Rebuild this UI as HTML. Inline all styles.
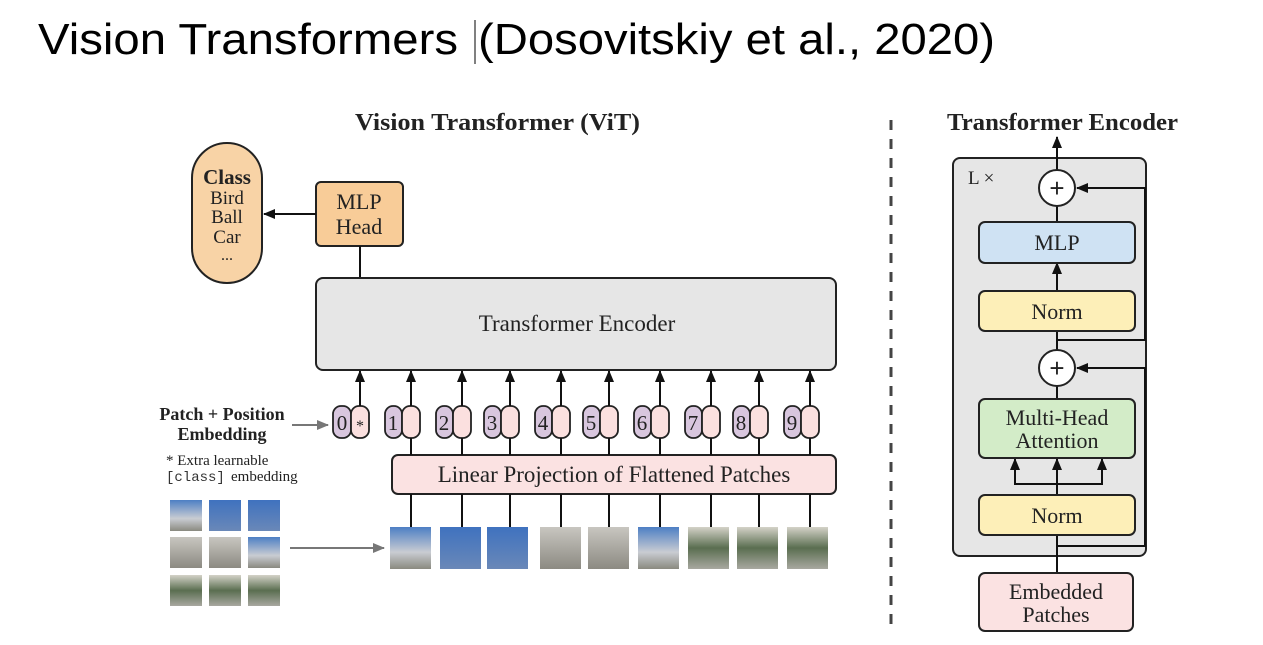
<!DOCTYPE html>
<html><head><meta charset="utf-8"><style>
html,body{margin:0;padding:0;background:#fff;width:1263px;height:645px;overflow:hidden}
svg{display:block}
.s{font-family:"Liberation Serif",serif;fill:#222}
</style></head><body>
<svg width="1263" height="645" viewBox="0 0 1263 645" xmlns="http://www.w3.org/2000/svg">
<defs>
<marker id="b" markerWidth="12" markerHeight="10" refX="11" refY="5" orient="auto" markerUnits="userSpaceOnUse"><path d="M0,0 L12,5 L0,10 z" fill="#111"/></marker>
<marker id="g" markerWidth="12" markerHeight="10" refX="11" refY="5" orient="auto" markerUnits="userSpaceOnUse"><path d="M0,0 L12,5 L0,10 z" fill="#777"/></marker>
<linearGradient id="p1" x1="0" y1="0" x2="0" y2="1"><stop offset="0" stop-color="#4d7fc4"/><stop offset="0.6" stop-color="#c9ccd2"/><stop offset="1" stop-color="#8a8a80"/></linearGradient>
<linearGradient id="p2" x1="0" y1="0" x2="0" y2="1"><stop offset="0" stop-color="#3f72bf"/><stop offset="1" stop-color="#6a88b8"/></linearGradient>
<linearGradient id="p3" x1="0" y1="0" x2="0" y2="1"><stop offset="0" stop-color="#c8c6c0"/><stop offset="1" stop-color="#8c8a82"/></linearGradient>
<linearGradient id="p4" x1="0" y1="0" x2="0" y2="1"><stop offset="0" stop-color="#d4d2c8"/><stop offset="0.5" stop-color="#5a6e50"/><stop offset="1" stop-color="#a8a8a0"/></linearGradient>
</defs>
<text x="38" y="54" font-family="Liberation Sans,sans-serif" font-size="44" fill="#000" textLength="420" lengthAdjust="spacingAndGlyphs">Vision Transformers</text>
<line x1="475" y1="20" x2="475" y2="64" stroke="#000" stroke-width="1"/>
<text x="478" y="54" font-family="Liberation Sans,sans-serif" font-size="44" fill="#000" textLength="517" lengthAdjust="spacingAndGlyphs">(Dosovitskiy et al., 2020)</text>

<text x="355" y="130" class="s" font-size="24" font-weight="bold" textLength="285" lengthAdjust="spacingAndGlyphs">Vision Transformer (ViT)</text>
<rect x="192" y="143" width="70" height="140" rx="35" fill="#f8d3a6" stroke="#222" stroke-width="2"/>
<text x="227" y="184" class="s" font-size="21" font-weight="bold" text-anchor="middle">Class</text>
<text x="227" y="204" class="s" font-size="19" text-anchor="middle">Bird</text>
<text x="227" y="223" class="s" font-size="19" text-anchor="middle">Ball</text>
<text x="227" y="243" class="s" font-size="19" text-anchor="middle">Car</text>
<text x="227" y="260" class="s" font-size="16" text-anchor="middle">...</text>
<rect x="316" y="182" width="87" height="64" rx="5" fill="#f8cc98" stroke="#222" stroke-width="2"/>
<text x="359" y="209" class="s" font-size="22" text-anchor="middle">MLP</text>
<text x="359" y="234" class="s" font-size="22" text-anchor="middle">Head</text>
<line x1="316" y1="214" x2="264" y2="214" stroke="#111" stroke-width="2" marker-end="url(#b)"/>
<line x1="360" y1="246" x2="360" y2="278" stroke="#111" stroke-width="2"/>
<rect x="316" y="278" width="520" height="92" rx="7" fill="#e6e6e6" stroke="#222" stroke-width="2"/>
<text x="577" y="331" class="s" font-size="23" text-anchor="middle">Transformer Encoder</text>

<text x="222" y="420" class="s" font-size="18" font-weight="bold" text-anchor="middle">Patch + Position</text>
<text x="222" y="440" class="s" font-size="18" font-weight="bold" text-anchor="middle">Embedding</text>
<line x1="292" y1="425" x2="328" y2="425" stroke="#777" stroke-width="2" marker-end="url(#g)"/>
<text x="166" y="465" class="s" font-size="15">* Extra learnable</text>
<text x="166" y="481" font-family="Liberation Mono,monospace" font-size="14" fill="#333">[class]</text><text x="231" y="481" class="s" font-size="15">embedding</text>

<rect x="392" y="455" width="444" height="39" rx="6" fill="#fbe2e2" stroke="#222" stroke-width="2"/>
<text x="614" y="482" class="s" font-size="23" text-anchor="middle">Linear Projection of Flattened Patches</text>

<g stroke="#222" stroke-width="1.8">
<rect x="333" y="406" width="18" height="32" rx="8" fill="#d8c6de"/><rect x="351" y="406" width="18" height="32" rx="8" fill="#fbe0df"/>
<rect x="385" y="406" width="17" height="32" rx="8" fill="#d8c6de"/><rect x="402" y="406" width="18" height="32" rx="8" fill="#fbe0df"/>
<rect x="436" y="406" width="17" height="32" rx="8" fill="#d8c6de"/><rect x="453" y="406" width="18" height="32" rx="8" fill="#fbe0df"/>
<rect x="484" y="406" width="17" height="32" rx="8" fill="#d8c6de"/><rect x="501" y="406" width="18" height="32" rx="8" fill="#fbe0df"/>
<rect x="535" y="406" width="17" height="32" rx="8" fill="#d8c6de"/><rect x="552" y="406" width="18" height="32" rx="8" fill="#fbe0df"/>
<rect x="583" y="406" width="17" height="32" rx="8" fill="#d8c6de"/><rect x="600" y="406" width="18" height="32" rx="8" fill="#fbe0df"/>
<rect x="634" y="406" width="17" height="32" rx="8" fill="#d8c6de"/><rect x="651" y="406" width="18" height="32" rx="8" fill="#fbe0df"/>
<rect x="685" y="406" width="17" height="32" rx="8" fill="#d8c6de"/><rect x="702" y="406" width="18" height="32" rx="8" fill="#fbe0df"/>
<rect x="733" y="406" width="17" height="32" rx="8" fill="#d8c6de"/><rect x="750" y="406" width="18" height="32" rx="8" fill="#fbe0df"/>
<rect x="784" y="406" width="17" height="32" rx="8" fill="#d8c6de"/><rect x="801" y="406" width="18" height="32" rx="8" fill="#fbe0df"/>
</g>
<g class="s" font-size="21" text-anchor="middle" fill="#333">
<text x="342" y="430">0</text><text x="360" y="431" font-size="16">*</text>
<text x="393" y="430">1</text><text x="444" y="430">2</text><text x="492" y="430">3</text><text x="543" y="430">4</text>
<text x="591" y="430">5</text><text x="642" y="430">6</text><text x="693" y="430">7</text><text x="741" y="430">8</text><text x="792" y="430">9</text>
</g>
<g stroke="#111" stroke-width="2" marker-end="url(#b)">
<line x1="360" y1="406" x2="360" y2="371"/><line x1="411" y1="406" x2="411" y2="371"/>
<line x1="462" y1="406" x2="462" y2="371"/><line x1="510" y1="406" x2="510" y2="371"/>
<line x1="561" y1="406" x2="561" y2="371"/><line x1="609" y1="406" x2="609" y2="371"/>
<line x1="660" y1="406" x2="660" y2="371"/><line x1="711" y1="406" x2="711" y2="371"/>
<line x1="759" y1="406" x2="759" y2="371"/><line x1="810" y1="406" x2="810" y2="371"/>
</g>
<g stroke="#111" stroke-width="2">
<line x1="411" y1="438" x2="411" y2="455"/><line x1="462" y1="438" x2="462" y2="455"/>
<line x1="510" y1="438" x2="510" y2="455"/><line x1="561" y1="438" x2="561" y2="455"/>
<line x1="609" y1="438" x2="609" y2="455"/><line x1="660" y1="438" x2="660" y2="455"/>
<line x1="711" y1="438" x2="711" y2="455"/><line x1="759" y1="438" x2="759" y2="455"/>
<line x1="810" y1="438" x2="810" y2="455"/>
<line x1="411" y1="494" x2="411" y2="527"/><line x1="462" y1="494" x2="462" y2="527"/>
<line x1="510" y1="494" x2="510" y2="527"/><line x1="561" y1="494" x2="561" y2="527"/>
<line x1="609" y1="494" x2="609" y2="527"/><line x1="660" y1="494" x2="660" y2="527"/>
<line x1="711" y1="494" x2="711" y2="527"/><line x1="759" y1="494" x2="759" y2="527"/>
<line x1="810" y1="494" x2="810" y2="527"/>
</g>
<g>
<rect x="390" y="527" width="41" height="42" fill="url(#p1)"/><rect x="440" y="527" width="41" height="42" fill="url(#p2)"/>
<rect x="487" y="527" width="41" height="42" fill="url(#p2)"/><rect x="540" y="527" width="41" height="42" fill="url(#p3)"/>
<rect x="588" y="527" width="41" height="42" fill="url(#p3)"/><rect x="638" y="527" width="41" height="42" fill="url(#p1)"/>
<rect x="688" y="527" width="41" height="42" fill="url(#p4)"/><rect x="737" y="527" width="41" height="42" fill="url(#p4)"/>
<rect x="787" y="527" width="41" height="42" fill="url(#p4)"/>
<rect x="170" y="500" width="32" height="31" fill="url(#p1)"/><rect x="209" y="500" width="32" height="31" fill="url(#p2)"/><rect x="248" y="500" width="32" height="31" fill="url(#p2)"/>
<rect x="170" y="537" width="32" height="31" fill="url(#p3)"/><rect x="209" y="537" width="32" height="31" fill="url(#p3)"/><rect x="248" y="537" width="32" height="31" fill="url(#p1)"/>
<rect x="170" y="575" width="32" height="31" fill="url(#p4)"/><rect x="209" y="575" width="32" height="31" fill="url(#p4)"/><rect x="248" y="575" width="32" height="31" fill="url(#p4)"/>
</g>
<line x1="290" y1="548" x2="384" y2="548" stroke="#777" stroke-width="2" marker-end="url(#g)"/>

<line x1="891" y1="120" x2="891" y2="628" stroke="#444" stroke-width="3" stroke-dasharray="10,9"/>

<text x="947" y="130" class="s" font-size="24" font-weight="bold" textLength="231" lengthAdjust="spacingAndGlyphs">Transformer Encoder</text>
<rect x="953" y="158" width="193" height="398" rx="7" fill="#e6e6e6" stroke="#222" stroke-width="2"/>
<text x="968" y="184" class="s" font-size="19" fill="#333">L ×</text>
<g stroke="#111" stroke-width="2" fill="none">
<line x1="1057" y1="573" x2="1057" y2="535"/>
<polyline points="1057,546 1145,546 1145,368 1077,368" marker-end="url(#b)"/>
<line x1="1057" y1="495" x2="1057" y2="484"/>
<polyline points="1015,458 1015,484 1102,484 1102,458"/>
<line x1="1015" y1="484" x2="1015" y2="459" marker-end="url(#b)"/>
<line x1="1057" y1="484" x2="1057" y2="459" marker-end="url(#b)"/>
<line x1="1102" y1="484" x2="1102" y2="459" marker-end="url(#b)"/>
<line x1="1057" y1="399" x2="1057" y2="386"/>
<line x1="1057" y1="350" x2="1057" y2="331"/>
<polyline points="1057,340 1145,340 1145,188 1077,188" marker-end="url(#b)"/>
<line x1="1057" y1="291" x2="1057" y2="263" marker-end="url(#b)"/>
<line x1="1057" y1="222" x2="1057" y2="206"/>
<line x1="1057" y1="170" x2="1057" y2="137" marker-end="url(#b)"/>
</g>
<g stroke="#222" stroke-width="2">
<circle cx="1057" cy="188" r="18" fill="#fff"/>
<circle cx="1057" cy="368" r="18" fill="#fff"/>
<rect x="979" y="222" width="156" height="41" rx="6" fill="#cfe2f3"/>
<rect x="979" y="291" width="156" height="40" rx="6" fill="#fdefb8"/>
<rect x="979" y="399" width="156" height="59" rx="6" fill="#d3ecc8"/>
<rect x="979" y="495" width="156" height="40" rx="6" fill="#fdefb8"/>
<rect x="979" y="573" width="154" height="58" rx="6" fill="#fbe2e2"/>
</g>
<g class="s" font-size="22" text-anchor="middle">
<text x="1057" y="197" font-family="Liberation Sans,sans-serif" font-size="26">+</text>
<text x="1057" y="377" font-family="Liberation Sans,sans-serif" font-size="26">+</text>
<text x="1057" y="250">MLP</text>
<text x="1057" y="319">Norm</text>
<text x="1057" y="425">Multi-Head</text>
<text x="1057" y="448">Attention</text>
<text x="1057" y="523">Norm</text>
<text x="1056" y="599">Embedded</text>
<text x="1056" y="622">Patches</text>
</g>
</svg>
</body></html>
